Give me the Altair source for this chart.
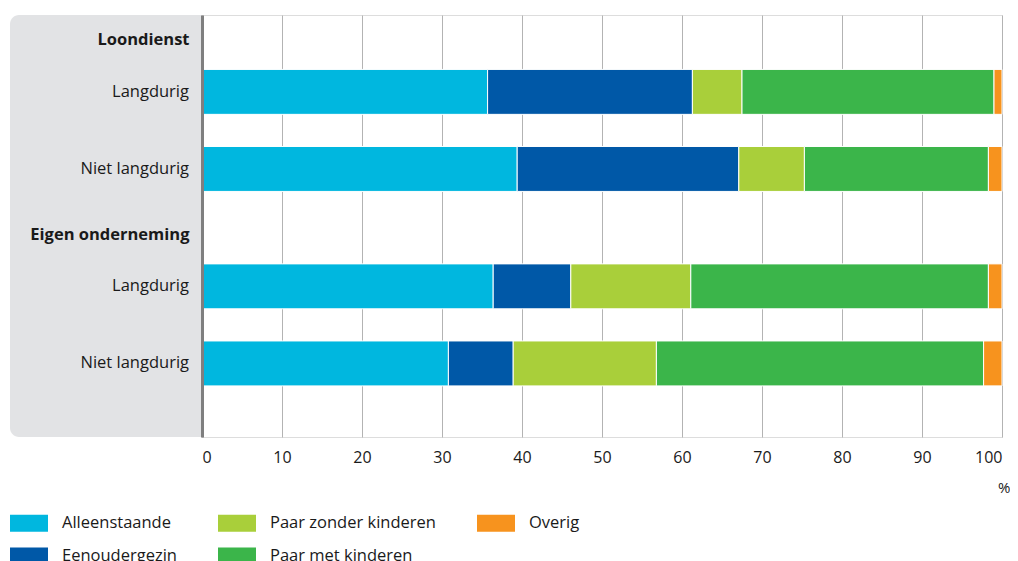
import altair as alt
import pandas as pd

# ---- data ----
groups = ["Loondienst", "Eigen onderneming"]
durations = ["Langdurig", "Niet langdurig"]
bar_groups = ["Loondienst", "Loondienst", "Eigen onderneming", "Eigen onderneming"]
bar_durations = ["Langdurig", "Niet langdurig", "Langdurig", "Niet langdurig"]

types = ["Alleenstaande", "Eenoudergezin", "Paar zonder kinderen",
         "Paar met kinderen", "Overig"]
colors = ["#00b7df", "#0058a7", "#a9cf3a", "#3bb54a", "#f7931e"]

alleenstaande = [35.7, 39.4, 36.4, 30.8]
eenoudergezin = [25.6, 27.7, 9.7, 8.1]
paar_zonder = [6.2, 8.2, 15.0, 17.9]
paar_met = [31.5, 23.0, 37.2, 40.9]
overig = [1.0, 1.7, 1.7, 2.3]

x_ticks = list(range(0, 101, 10))

series = [alleenstaande, eenoudergezin, paar_zonder, paar_met, overig]
records = []
for ti, (t, vals) in enumerate(zip(types, series)):
    for g, d, v in zip(bar_groups, bar_durations, vals):
        records.append({"group": g, "duur": d, "type": t, "value": v, "order": ti})
df = pd.DataFrame(records)
labels_df = pd.DataFrame({"group": bar_groups, "duur": bar_durations})

FONT = "Open Sans"
TXT = "#1a1a1a"
FS = 16.5

y_scale = alt.Scale(domain=groups, paddingInner=0, paddingOuter=0.085, align=0.55)
yoff_scale = alt.Scale(domain=durations, paddingInner=0.417, paddingOuter=0.47)

panel = alt.Chart(pd.DataFrame({"p": [0]})).mark_rect(
    color="#e2e3e5", cornerRadiusTopLeft=9, cornerRadiusBottomLeft=9
).encode(
    x=alt.value(-192), x2=alt.value(0), y=alt.value(0), y2=alt.value(422)
)

y_enc = alt.Y("group:N", scale=y_scale,
              axis=alt.Axis(title=None, ticks=False, grid=False, domain=True,
                            domainColor="#7f7f7f", domainWidth=3,
                            labelFontSize=FS, labelColor=TXT, labelFont=FONT,
                            labelFontWeight="bold", labelPadding=13,
                            labelOffset=-90, zindex=1))
yoff_enc = alt.YOffset("duur:N", scale=yoff_scale)

bars = alt.Chart(df).transform_stack(
    stack="value", as_=["x0", "x1"], groupby=["group", "duur"],
    sort=[alt.SortField("order", order="ascending")]
).mark_bar(stroke="white", strokeWidth=1).encode(
    x=alt.X("x0:Q",
            scale=alt.Scale(domain=[0, 100], nice=False),
            axis=alt.Axis(values=x_ticks, grid=True, ticks=False, domain=False,
                          gridColor="#b3b3b3", gridWidth=1, labelPadding=12,
                          labelFontSize=16, labelColor=TXT, labelFont=FONT,
                          title="%", titleFont=FONT, titleFontSize=15,
                          titleFontWeight="normal", titleColor=TXT,
                          titleX=808, titleY=50, titleAlign="right",
                          titleBaseline="middle", zindex=0)),
    x2="x1:Q",
    y=y_enc,
    yOffset=yoff_enc,
    color=alt.Color("type:N",
                    scale=alt.Scale(domain=types, range=colors),
                    legend=alt.Legend(title=None, orient="none", legendX=-192,
                                      legendY=489, columns=3, columnPadding=41,
                                      rowPadding=5, symbolType="M-1,-0.45H1V0.45H-1Z",
                                      symbolSize=1444, symbolStrokeWidth=0,
                                      symbolOpacity=1, labelOffset=14,
                                      labelFontSize=FS, labelFont=FONT,
                                      labelColor=TXT, labelLimit=400)),
)

sublabels = alt.Chart(labels_df).mark_text(
    align="right", baseline="middle", font=FONT, fontSize=FS, color=TXT
).encode(
    x=alt.value(-13),
    y=alt.Y("group:N", scale=y_scale),
    yOffset=alt.YOffset("duur:N", scale=yoff_scale),
    text="duur:N",
)

chart = alt.layer(panel, bars, sublabels).properties(
    width=800, height=422,
    autosize=alt.AutoSizeParams(type="none"),
    padding={"left": 194, "top": 7, "right": 8, "bottom": 135},
).configure_view(stroke=None).configure(font=FONT)

chart.save("out.html", embed_options={"renderer": "svg", "actions": False})
